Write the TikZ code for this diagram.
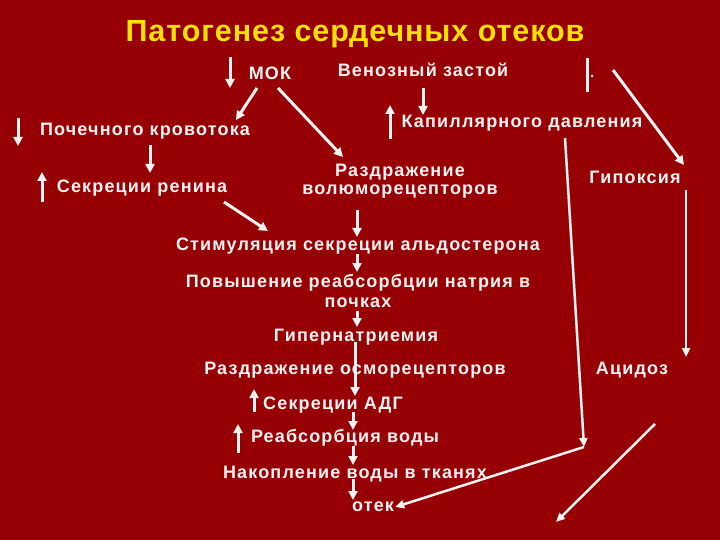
\documentclass[tikz,border=0pt]{standalone}
\usepackage{fontspec}
\setmainfont{Liberation Sans}
\newfontfamily\spaced[LetterSpace=6.5]{Liberation Sans}
\newfontfamily\tspaced[LetterSpace=3]{Liberation Sans}
\usetikzlibrary{arrows.meta}
\definecolor{bg}{RGB}{150,0,4}
\definecolor{tx}{RGB}{255,242,240}
\definecolor{ttl}{RGB}{255,224,0}
\begin{document}
\begin{tikzpicture}[x=1pt,y=-1pt,
  lbl/.style={text=tx,font=\spaced\bfseries\fontsize{18}{19}\selectfont,inner sep=1pt,align=center},
  arr/.style={draw=tx,line width=3pt,-{Triangle[length=9pt,width=9pt]}},
  thin/.style={draw=tx,line width=2.5pt,-{Triangle[length=9pt,width=8pt]}}]
\fill[bg] (0,0) rectangle (720,540);
\useasboundingbox (0,0) rectangle (720,540);
\node[text=ttl,font=\tspaced\bfseries\fontsize{30.5}{33}\selectfont] (title) at (355,34) {Патогенез сердечных отеков};
\node[lbl] (mok) at (270,73) {МОК};
\node[lbl] (ven) at (423,70) {Венозный застой};
\node[lbl] (poch) at (145,131) {Почечного кровотока};
\node[lbl] (kap) at (522,123) {Капиллярного давления};
\node[lbl] (ren) at (142,188) {Секреции ренина};
\node[lbl] (vol) at (400,181) {Раздражение\\[-1pt]волюморецепторов};
\node[lbl] (gip) at (635,177) {Гипоксия};
\node[lbl] (ald) at (358,246) {Стимуляция секреции альдостерона};
\node[lbl] (nat) at (358,291) {Повышение реабсорбции натрия в\\[1pt]почках};
\node[lbl] (hyp) at (356,337) {Гипернатриемия};
\node[lbl] (osm) at (355,370) {Раздражение осморецепторов};
\node[lbl] (adg) at (333,405) {Секреции АДГ};
\node[lbl] (rv) at (345,438) {Реабсорбция воды};
\node[lbl] (nak) at (355,474) {Накопление воды в тканях};
\node[lbl] (otek) at (373,507) {отек};
\node[lbl] (aci) at (632,370) {Ацидоз};
% small indicator arrows
\coordinate (m1) at (230,57); \coordinate (m2) at (230,88);
\draw[arr] (m1) -- (m2);
\coordinate (p1) at (18,118); \coordinate (p2) at (18,146);
\draw[arr] (p1) -- (p2);
\coordinate (k1) at (390,139); \coordinate (k2) at (390,105);
\draw[arr] (k1) -- (k2);
\coordinate (r1) at (42,202); \coordinate (r2) at (42,172);
\draw[arr] (r1) -- (r2);
\coordinate (a1) at (254,412); \coordinate (a2) at (254,389);
\draw[arr] (a1) -- (a2);
\coordinate (w1) at (238,453); \coordinate (w2) at (238,424);
\draw[arr] (w1) -- (w2);
\coordinate (s1) at (587,58); \coordinate (s2) at (587,92);
\draw[draw=tx,line width=3pt] (s1) -- (s2);
\fill[tx] (592,76) circle (1.5pt);
% flow arrows
\coordinate (mokA) at (257,88); \coordinate (pochT) at (236,120);
\draw[arr] (mokA) -- (pochT);
\coordinate (mokB) at (278,88); \coordinate (volT) at (343,157);
\draw[arr] (mokB) -- (volT);
\coordinate (venB) at (423,88); \coordinate (venT) at (423,115);
\draw[arr] (venB) -- (venT);
\coordinate (pochB) at (150,145); \coordinate (renT) at (150,173);
\draw[arr] (pochB) -- (renT);
\coordinate (renB) at (224,202); \coordinate (aldT) at (268,231);
\draw[arr] (renB) -- (aldT);
\draw[arr] (357,210) -- (357,237);
\draw[arr] (357,254) -- (357,272);
\draw[arr] (357,311) -- (357,327);
\draw[arr] (355,342) -- (355,396);
\draw[arr] (353,412) -- (353,430);
\draw[arr] (353,446) -- (353,465);
\draw[arr] (353,479) -- (353,500);
% right side
\coordinate (sA) at (613,70); \coordinate (gipT) at (684,165);
\draw[arr] (sA) -- (gipT);
\coordinate (kapB) at (565,138); \coordinate (bend) at (584,447);
\draw[thin] (kapB) -- (bend);
\draw[thin] (bend) -- (otek.east);
\coordinate (gipB) at (686,190); \coordinate (aciT) at (686,357);
\draw[thin] (gipB) -- (aciT);
\coordinate (aciB) at (655,424); \coordinate (endA) at (556,522);
\draw[thin] (aciB) -- (endA);
\end{tikzpicture}
\end{document}
